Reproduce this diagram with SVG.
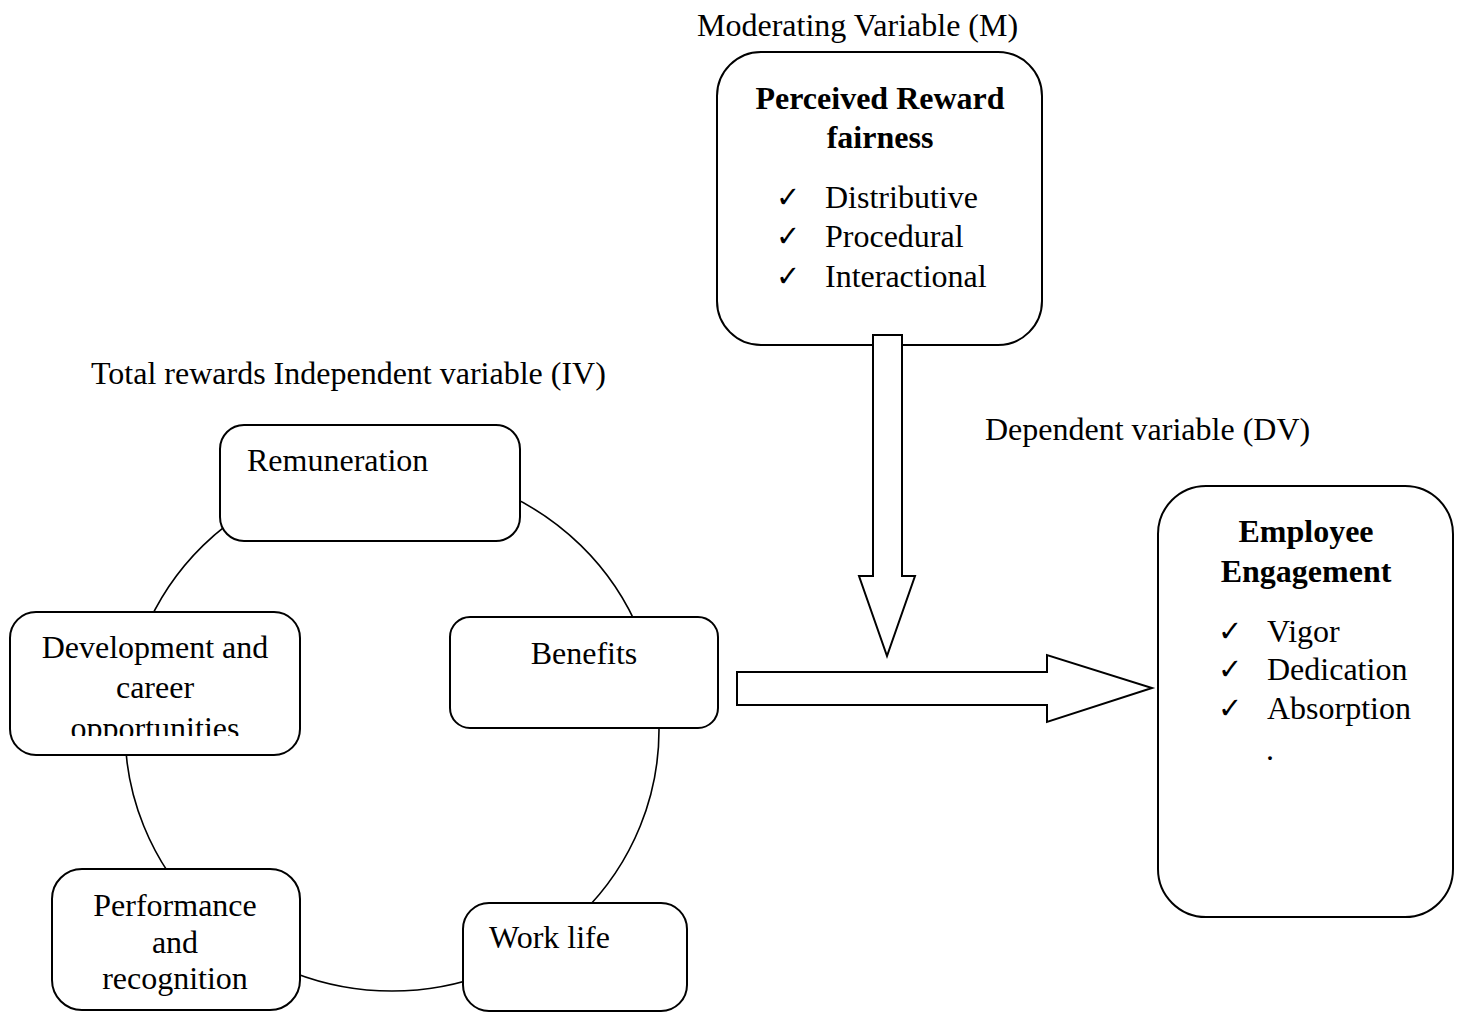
<svg xmlns="http://www.w3.org/2000/svg" width="1462" height="1012" viewBox="0 0 1462 1012">
<style>
.t{font-family:"Liberation Serif","Times New Roman",serif;font-size:32px;fill:#000}
.b{font-weight:bold}
.c{text-anchor:middle}
.ck{font-family:"DejaVu Sans",sans-serif;font-size:29px;fill:#000}
.box{fill:#fff;stroke:#000;stroke-width:2}
.arr{fill:#fff;stroke:#000;stroke-width:2}
.link{fill:none;stroke:#000;stroke-width:1.6}
</style>
<defs>
<clipPath id="devclip"><rect x="10" y="612" width="290" height="124"/></clipPath>
</defs>
<rect width="1462" height="1012" fill="#fff"/>

<text class="t" x="697" y="36">Moderating Variable (M)</text>
<text class="t" x="91" y="384">Total rewards Independent variable (IV)</text>
<text class="t" x="985" y="440">Dependent variable (DV)</text>

<g id="connectors">
<ellipse class="link" cx="392" cy="730" rx="267" ry="261"/>
</g>

<g id="moderator">
<rect class="box" x="717" y="52" width="325" height="293" rx="44"/>
<text class="t b c" x="880" y="109">Perceived Reward</text>
<text class="t b c" x="880" y="148">fairness</text>
<text class="ck" x="776" y="207">✓</text>
<text class="t" x="825" y="208">Distributive</text>
<text class="ck" x="776" y="246">✓</text>
<text class="t" x="825" y="247">Procedural</text>
<text class="ck" x="776" y="286">✓</text>
<text class="t" x="825" y="287">Interactional</text>
</g>

<g id="arrow-down">
<polygon class="arr" points="873,335 902,335 902,576 915,576 887,656 859,576 873,576"/>
</g>
<g id="arrow-right">
<polygon class="arr" points="737,672 1047,672 1047,655 1152,688 1047,722 1047,705 737,705"/>
</g>

<g id="engagement">
<rect class="box" x="1158" y="486" width="295" height="431" rx="48"/>
<text class="t b c" x="1306" y="542">Employee</text>
<text class="t b c" x="1306" y="582">Engagement</text>
<text class="ck" x="1218" y="641">✓</text>
<text class="t" x="1267" y="642">Vigor</text>
<text class="ck" x="1218" y="679">✓</text>
<text class="t" x="1267" y="680">Dedication</text>
<text class="ck" x="1218" y="718">✓</text>
<text class="t" x="1267" y="719">Absorption</text>
<text class="t" x="1266" y="760">.</text>
</g>

<g id="remuneration">
<rect class="box" x="220" y="425" width="300" height="116" rx="24"/>
<text class="t" x="247" y="471">Remuneration</text>
</g>

<g id="development">
<rect class="box" x="10" y="612" width="290" height="143" rx="26"/>
<text class="t c" x="155" y="658">Development and</text>
<text class="t c" x="155" y="698">career</text>
<text class="t c" x="155" y="739" clip-path="url(#devclip)">opportunities</text>
</g>

<g id="benefits">
<rect class="box" x="450" y="617" width="268" height="111" rx="20"/>
<text class="t c" x="584" y="664">Benefits</text>
</g>

<g id="performance">
<rect class="box" x="52" y="869" width="248" height="141" rx="30"/>
<text class="t c" x="175" y="916">Performance</text>
<text class="t c" x="175" y="953">and</text>
<text class="t c" x="175" y="989">recognition</text>
</g>

<g id="worklife">
<rect class="box" x="463" y="903" width="224" height="108" rx="26"/>
<text class="t" x="489" y="948">Work life</text>
</g>
</svg>
